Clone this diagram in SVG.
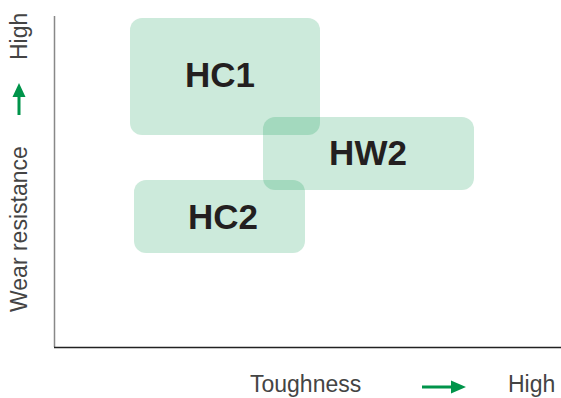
<svg xmlns="http://www.w3.org/2000/svg" width="561" height="398" viewBox="0 0 561 398">
<style>
.box{fill:#00954a;fill-opacity:0.2}
.lbl{font-family:"Liberation Sans",Arial,sans-serif;font-weight:bold;font-size:35px;fill:#231f20;text-anchor:middle}
.ax{font-family:"Liberation Sans",Arial,sans-serif;font-size:23px;fill:#444}
.arr{fill:#00944a}
</style>
<rect width="561" height="398" fill="#fff"/>
<g id="axes">
<line x1="54.5" y1="16" x2="54.5" y2="347" stroke="#888" stroke-width="1.5"/>
<line x1="54" y1="347.5" x2="561" y2="347.5" stroke="#222" stroke-width="1.5"/>
</g>
<g id="HC1"><rect class="box" x="130" y="18" width="190" height="117" rx="12"/><text class="lbl" x="220" y="87">HC1</text></g>
<g id="HW2"><rect class="box" x="263" y="117" width="211" height="73" rx="12"/><text class="lbl" x="368" y="165">HW2</text></g>
<g id="HC2"><rect class="box" x="134" y="180" width="171" height="73" rx="12"/><text class="lbl" x="223" y="229">HC2</text></g>
<g id="yaxis-label">
<text class="ax" transform="translate(27,312) rotate(-90)">Wear resistance</text>
<path class="arr" d="M17.5 115 V97 H12.5 L19 83 L25.5 97 H20.5 V115 Z"/>
<text class="ax" transform="translate(27,60) rotate(-90)">High</text>
</g>
<g id="xaxis-label">
<text class="ax" x="250" y="392">Toughness</text>
<path class="arr" d="M422 385.5 H451 V380.5 L466 387 L451 393.5 V388.5 H422 Z"/>
<text class="ax" x="508" y="392">High</text>
</g>
</svg>
